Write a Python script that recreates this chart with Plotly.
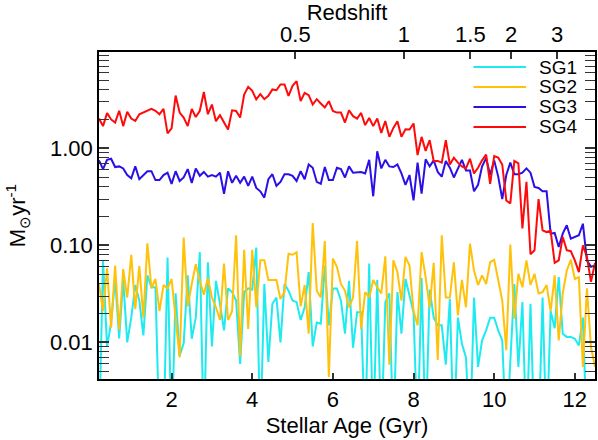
import numpy as np
import plotly.graph_objects as go

# Stellar age bins (Gyr)
age = np.round(np.arange(0.2, 12.51, 0.1), 1)

sg1 = [0.001, 0.070, 0.0090, 0.016, 0.045, 0.011, 0.044, 0.010, 0.018, 0.039, 0.027, 0.0118, 0.049, 0.037, 0.037, 0.001,
       0.001, 0.075, 0.001, 0.032, 0.0073, 0.0098, 0.049, 0.0109, 0.018, 0.085, 0.001, 0.067, 0.0091, 0.043, 0.025, 0.0133,
       0.036, 0.033, 0.027, 0.006, 0.033, 0.036, 0.035, 0.095, 0.001, 0.040, 0.0063, 0.025, 0.029, 0.010, 0.040, 0.034,
       0.027, 0.026, 0.017, 0.023, 0.053, 0.0091, 0.016, 0.0156, 0.062, 0.015, 0.036, 0.036, 0.027, 0.0123, 0.043,
       0.0088, 0.0205, 0.0205, 0.001, 0.065, 0.001, 0.044, 0.001, 0.026, 0.032, 0.001, 0.033, 0.0123, 0.045, 0.031, 0.0205,
       0.001, 0.046, 0.001, 0.035, 0.018, 0.015, 0.015, 0.0059, 0.028, 0.001, 0.018, 0.0097, 0.0070, 0.001, 0.029,
       0.0056, 0.0105, 0.0133, 0.018, 0.018, 0.0133, 0.0105, 0.001, 0.0065, 0.040, 0.0056, 0.026, 0.001, 0.025, 0.001,
       0.001, 0.029, 0.001, 0.021, 0.014, 0.047, 0.0123, 0.0114, 0.0114, 0.0109, 0.0093, 0.018, 0.001, 0.001, 0.001]

sg2 = [0.040, 0.021, 0.058, 0.0142, 0.062, 0.0135, 0.057, 0.029, 0.080, 0.022, 0.061, 0.018, 0.105, 0.036, 0.045, 0.021,
       0.039, 0.036, 0.045, 0.017, 0.0070, 0.120, 0.0235, 0.040, 0.064, 0.043, 0.031, 0.046, 0.029, 0.023, 0.017, 0.065,
       0.017, 0.021, 0.127, 0.0072, 0.090, 0.0138, 0.090, 0.023, 0.070, 0.070, 0.044, 0.044, 0.044, 0.028, 0.033, 0.082,
       0.080, 0.085, 0.0235, 0.039, 0.0123, 0.170, 0.034, 0.029, 0.111, 0.0044, 0.073, 0.060, 0.040, 0.034, 0.023,
       0.029, 0.111, 0.0138, 0.033, 0.029, 0.044, 0.037, 0.032, 0.077, 0.0059, 0.070, 0.053, 0.027, 0.076, 0.062, 0.021,
       0.015, 0.085, 0.047, 0.023, 0.066, 0.0066, 0.127, 0.029, 0.029, 0.067, 0.019, 0.044, 0.023, 0.104, 0.055,
       0.039, 0.049, 0.040, 0.067, 0.071, 0.044, 0.027, 0.0083, 0.102, 0.0175, 0.051, 0.037, 0.070, 0.039, 0.051,
       0.032, 0.033, 0.039, 0.021, 0.049, 0.0105, 0.032, 0.055, 0.071, 0.045, 0.047, 0.0056, 0.036, 0.0090, 0.0056]

sg3 = [0.75, 0.61, 0.76, 0.78, 0.64, 0.65, 0.62, 0.53, 0.49, 0.65, 0.48, 0.53, 0.58, 0.58, 0.47, 0.47,
       0.53, 0.56, 0.43, 0.58, 0.46, 0.50, 0.61, 0.44, 0.62, 0.52, 0.57, 0.51, 0.53, 0.51, 0.56, 0.34,
       0.58, 0.44, 0.52, 0.44, 0.51, 0.41, 0.51, 0.39, 0.36, 0.31, 0.48, 0.54, 0.41, 0.45, 0.54, 0.54,
       0.52, 0.46, 0.58, 0.48, 0.68, 0.63, 0.45, 0.43, 0.64, 0.47, 0.47, 0.63, 0.61, 0.50, 0.65,
       0.56, 0.56, 0.57, 0.55, 0.76, 0.32, 0.93, 0.62, 0.76, 0.65, 0.64, 0.68, 0.55, 0.42, 0.53, 0.29,
       0.71, 0.34, 0.77, 0.65, 0.75, 0.57, 0.51, 0.74, 0.63, 0.50, 0.62, 0.76, 0.59, 0.59, 0.36,
       0.42, 0.65, 0.79, 0.53, 0.75, 0.51, 0.30, 0.53, 0.71, 0.54, 0.54, 0.56, 0.62, 0.56, 0.40,
       0.39, 0.36, 0.36, 0.132, 0.134, 0.096, 0.132, 0.161, 0.117, 0.122, 0.127, 0.167, 0.070, 0.060, 0.062]

sg4 = [2.02, 1.69, 2.31, 1.98, 1.84, 2.43, 1.69, 2.37, 2.02, 1.91, 2.24, 2.33, 2.43, 2.54, 2.43, 2.24,
       2.54, 1.42, 1.60, 3.49, 2.33, 2.07, 1.69, 2.54, 2.10, 2.43, 3.80, 2.24, 2.82, 1.90, 2.19, 1.85,
       1.56, 2.46, 2.42, 2.07, 3.58, 4.29, 3.90, 3.18, 3.60, 3.20, 3.46, 4.03, 3.96, 4.53, 4.53, 3.46,
       4.39, 4.91, 3.07, 3.72, 3.52, 2.82, 3.20, 2.89, 2.63, 3.05, 2.42, 2.33, 2.33, 1.84, 2.46,
       2.14, 2.02, 2.31, 1.73, 2.05, 1.69, 2.02, 1.44, 1.91, 1.31, 1.62, 1.90, 1.31, 1.57, 1.56, 1.80,
       0.85, 1.31, 0.94, 1.21, 0.74, 0.74, 0.71, 1.21, 0.68, 0.80, 0.71, 0.65, 0.62, 0.78, 0.55,
       0.63, 0.75, 0.86, 0.43, 0.83, 0.80, 0.68, 0.29, 0.27, 0.74, 0.70, 0.149, 0.45, 0.081, 0.089,
       0.30, 0.143, 0.137, 0.141, 0.066, 0.070, 0.122, 0.089, 0.087, 0.070, 0.053, 0.10, 0.076, 0.042, 0.066]

series_names = ["SG1", "SG2", "SG3", "SG4"]
series_colors = ["#1EEBF0", "#FFC20A", "#2A10E6", "#FF0A0A"]

# Top axis: redshift labels at their lookback ages (Gyr)
z_labels = ["0.5", "1", "1.5", "2", "3"]
z_ages = [5.07, 7.76, 9.41, 10.42, 11.56]

y_ticks = [0.01, 0.1, 1.0]
y_ticktext = ["0.01", "0.10", "1.00"]
x_ticks = [2, 4, 6, 8, 10, 12]
minor_vals = [k * 10.0 ** d for d in range(-3, 1) for k in range(2, 10)]

FONT = "Liberation Sans, Arial, Helvetica, sans-serif"

fig = go.Figure()
for name, col, vals in zip(series_names, series_colors, [sg1, sg2, sg3, sg4]):
    fig.add_trace(go.Scatter(x=age, y=vals, mode="lines", name=name,
                             line=dict(color=col, width=2), hoverinfo="skip"))

# invisible trace to activate the top (redshift) axis
fig.add_trace(go.Scatter(x=[z_ages[0]], y=[1.0], xaxis="x2", mode="lines",
                         showlegend=False, hoverinfo="skip", line=dict(width=0)))

# Legend (drawn in paper coordinates, top-right inside the frame)
legend_shapes = []
legend_annots = []
row_y = [0.954, 0.893, 0.832, 0.771]
for name, col, yy in zip(series_names, series_colors, row_y):
    legend_shapes.append(dict(type="line", xref="paper", yref="paper",
                              x0=0.755, x1=0.861, y0=yy, y1=yy,
                              line=dict(color=col, width=2)))
    legend_annots.append(dict(text=name, xref="paper", yref="paper", x=0.884, y=yy,
                              xanchor="left", yanchor="middle", showarrow=False,
                              font=dict(size=19, family=FONT, color="black")))

fig.update_layout(
    width=598, height=440,
    margin=dict(l=99, r=1, t=52, b=61),
    paper_bgcolor="white", plot_bgcolor="white",
    font=dict(family=FONT, color="black", size=22),
    showlegend=False,
    shapes=legend_shapes,
    annotations=legend_annots,
    xaxis=dict(range=[0.2, 12.5], tickvals=x_ticks, ticks="inside", ticklen=6,
               tickwidth=1.5, tickcolor="#333", showline=True, linecolor="black",
               linewidth=1.5, mirror=True, showgrid=False, zeroline=False,
               tickfont=dict(size=22),
               title=dict(text="Stellar Age (Gyr)", font=dict(size=22), standoff=6)),
    xaxis2=dict(range=[0.2, 12.5], overlaying="x", side="top", tickvals=z_ages,
                ticktext=z_labels, ticks="inside", ticklen=7, tickwidth=1.5,
                tickcolor="#333", showline=False, showgrid=False, zeroline=False,
                tickfont=dict(size=22), ticklabelstandoff=5,
                title=dict(text="Redshift", font=dict(size=22), standoff=0)),
    yaxis=dict(type="log", range=[np.log10(0.0042), np.log10(9.8)],
               tickvals=y_ticks, ticktext=y_ticktext, ticks="inside", ticklen=10,
               tickwidth=1.5, tickcolor="#333", showline=True, linecolor="black",
               linewidth=1.5, mirror="allticks", showgrid=False, zeroline=False,
               tickfont=dict(size=22),
               minor=dict(ticks="inside", ticklen=5, tickwidth=1.2, tickcolor="#333",
                          tickmode="array", tickvals=minor_vals, showgrid=False),
               title=dict(text="M<sub>⊙</sub>yr<sup>-1</sup>", font=dict(size=22), standoff=18)),
)

fig.write_html("out.html")
